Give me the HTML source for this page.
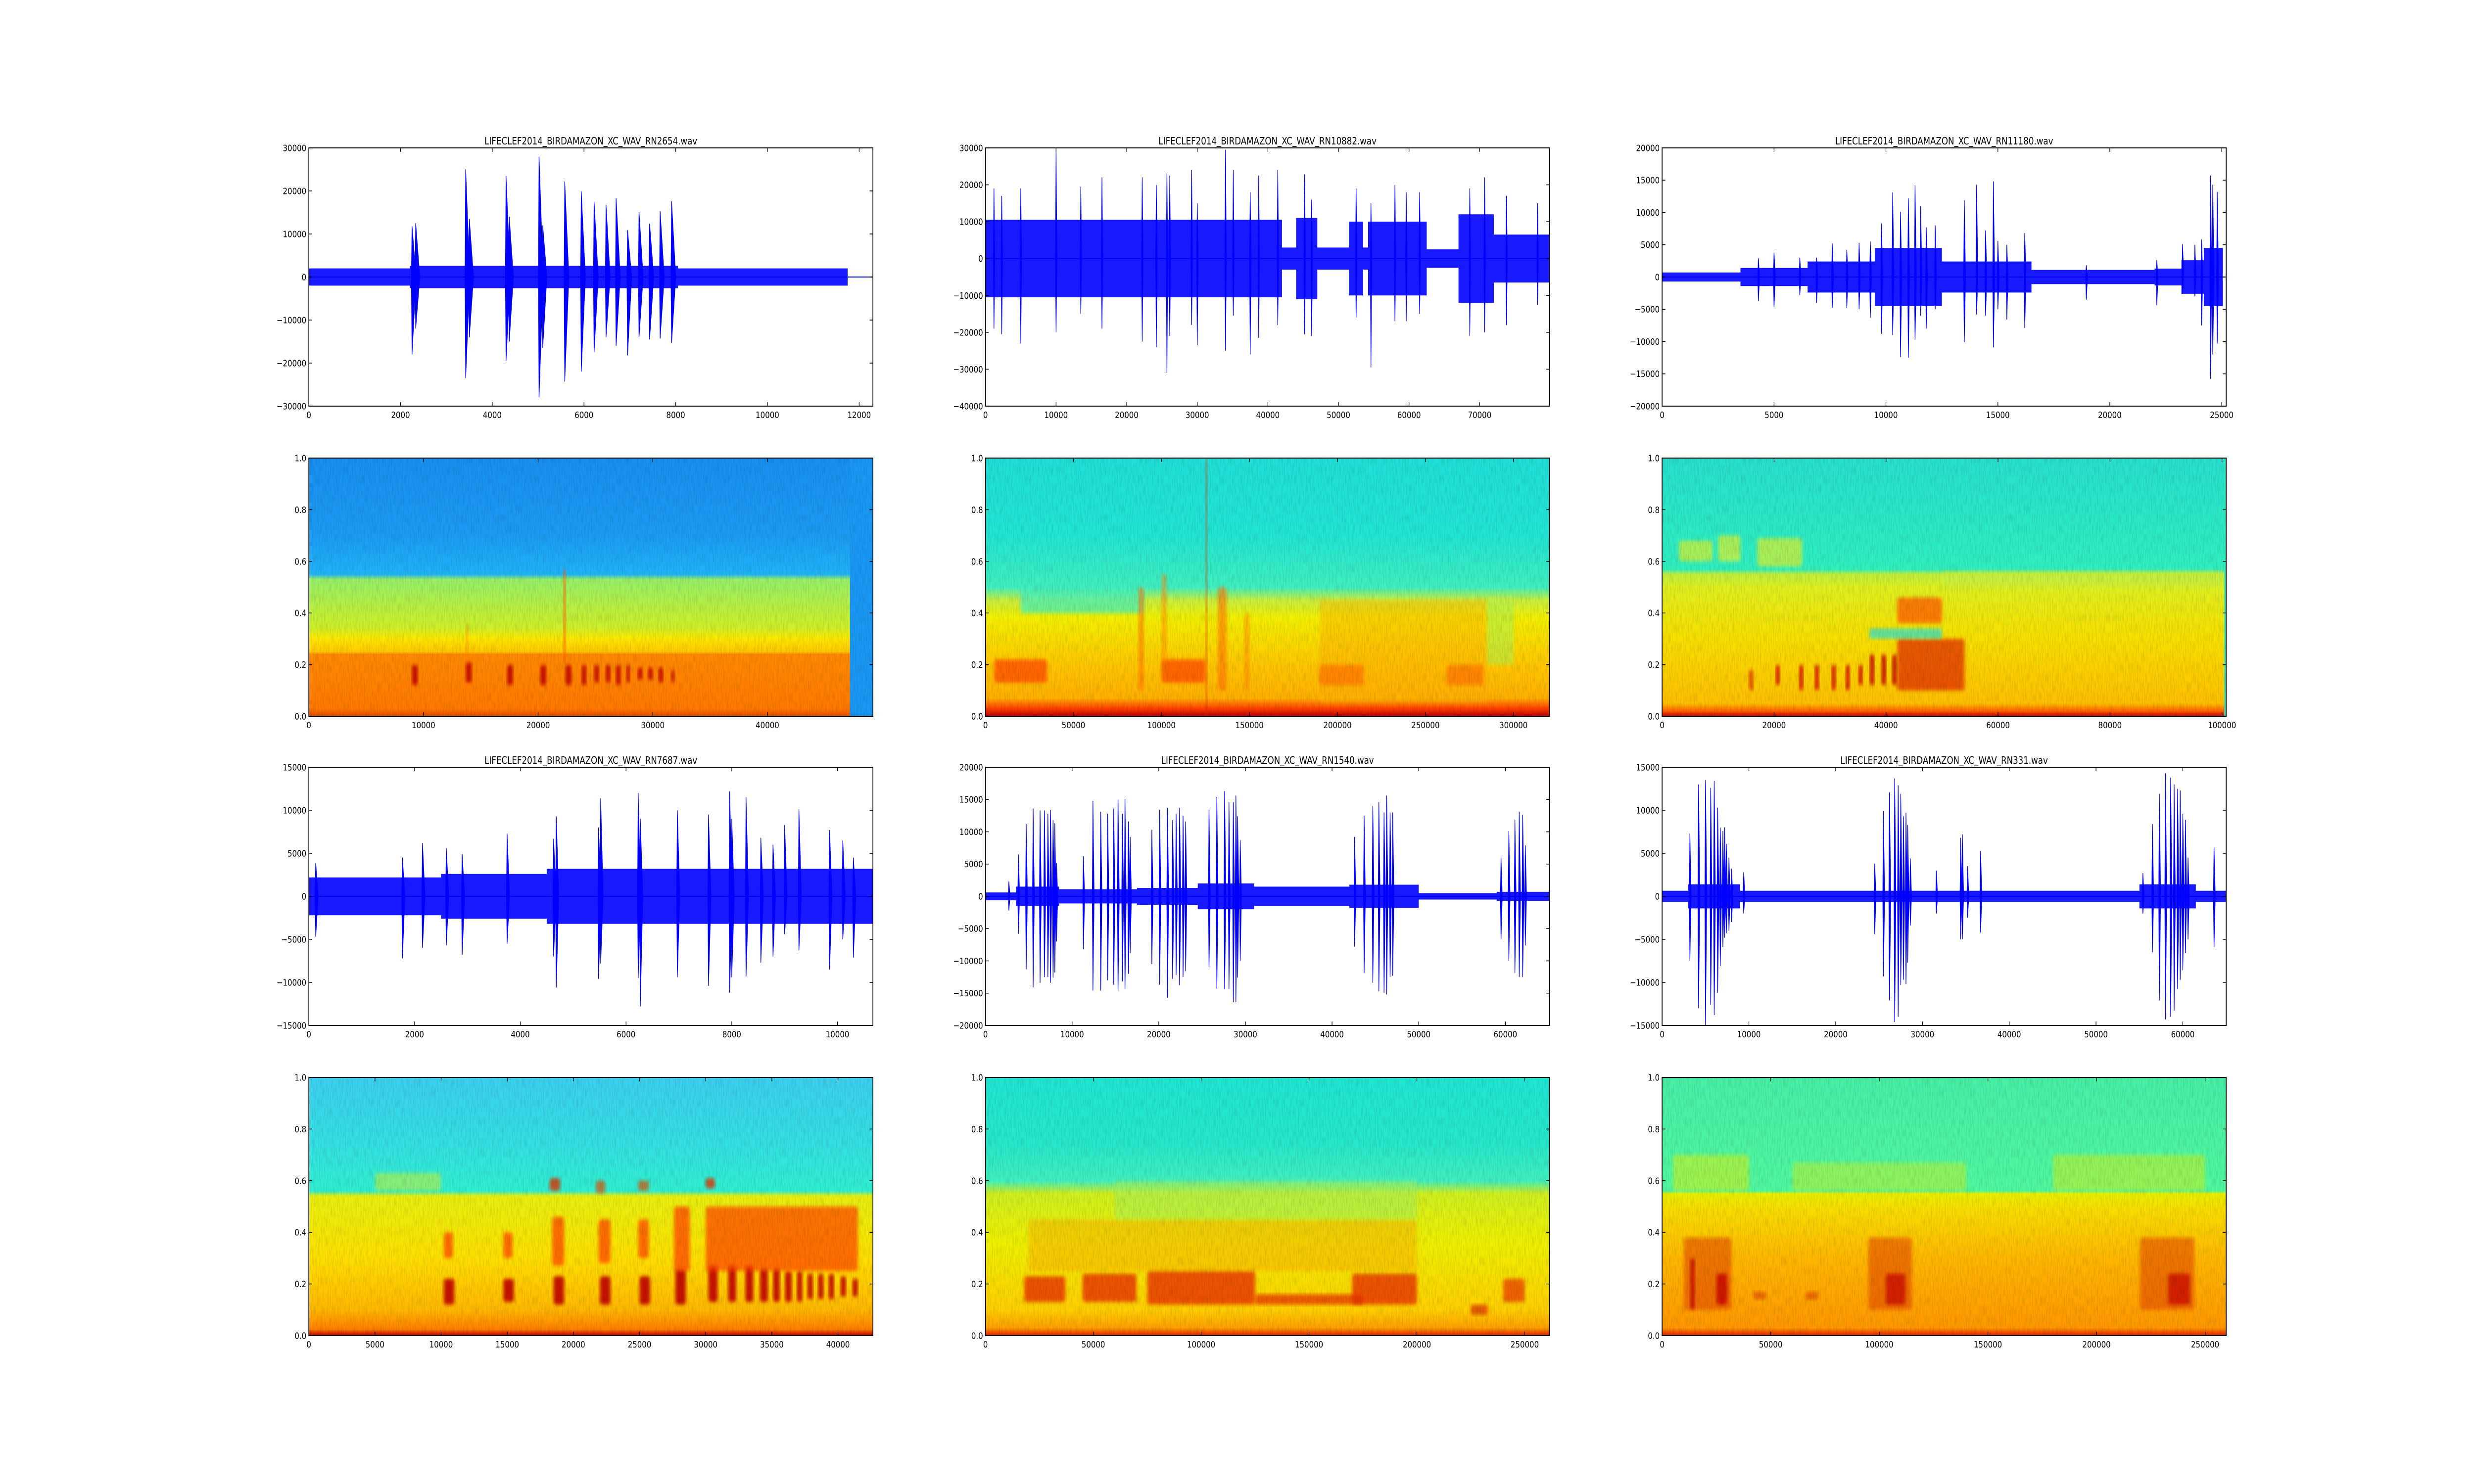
<!DOCTYPE html>
<html><head><meta charset="utf-8">
<style>
html,body{margin:0;padding:0;background:#fff;width:100%;height:100%;overflow:hidden;}
svg{display:block;width:100vw;height:100vh;}
text{font-family:"DejaVu Sans","Liberation Sans",sans-serif;}
</style></head>
<body>
<svg id="fig" xmlns="http://www.w3.org/2000/svg" viewBox="0 0 6000 3000" preserveAspectRatio="none">
<defs>
<filter id="soft" x="-20%" y="-20%" width="140%" height="140%"><feGaussianBlur stdDeviation="4"/></filter>
<filter id="grain" x="0" y="0" width="100%" height="100%">
<feTurbulence type="fractalNoise" baseFrequency="0.35 0.05" numOctaves="2" seed="3"/>
<feColorMatrix type="matrix" values="0 0 0 0 0  0 0 0 0 0  0 0 0 0 0  0 0 0 0.9 -0.35"/>
</filter>
</defs>
<rect width="6000" height="3000" fill="#fff"/>
</svg>
<script>
// ---------- layout (not data) ----------
const COLX = [749, 2390, 4031];
const ROWY = [299, 926, 1551, 2178];
const AW = 1368, AH = 522;

// ---------- waveform data ----------
const wave1Title = "LIFECLEF2014_BIRDAMAZON_XC_WAV_RN2654.wav";
const wave1XMax = 12300;
const wave1YTicks = [-30000, -20000, -10000, 0, 10000, 20000, 30000];
const wave1XTicks = [0, 2000, 4000, 6000, 8000, 10000, 12000];
const wave1Env = [[0, 2200, 2000], [2200, 8050, 2600], [8050, 11750, 2000]];
const wave1Spikes = [[2250, 11800, -18000], [2330, 12500, -12000], [3420, 25000, -23500], [3500, 13500, -14000], [4300, 23500, -19500], [4370, 14000, -15000], [5020, 28000, -28000], [5100, 12000, -16500], [5580, 22200, -24300], [5940, 19900, -22000], [6220, 17500, -17500], [6480, 16800, -14000], [6700, 18300, -16000], [6950, 10900, -18200], [7200, 15100, -14000], [7430, 12400, -14500], [7660, 15300, -14300], [7910, 17600, -15300]];

const wave2Title = "LIFECLEF2014_BIRDAMAZON_XC_WAV_RN10882.wav";
const wave2XMax = 79900;
const wave2YTicks = [-40000, -30000, -20000, -10000, 0, 10000, 20000, 30000];
const wave2XTicks = [0, 10000, 20000, 30000, 40000, 50000, 60000, 70000];
const wave2Env = [[0, 42000, 10500], [42000, 44000, 3000], [44000, 47000, 11000], [47000, 51500, 3000], [51500, 53500, 10000], [53500, 54200, 3000], [54200, 62500, 10000], [62500, 67000, 2500], [67000, 72000, 12000], [72000, 79900, 6500]];
const wave2Spikes = [[1200, 19000, -19000], [2300, 17000, -20500], [5000, 19000, -23000], [10000, 29500, -20000], [13500, 19500, -15000], [16500, 22000, -19000], [22200, 22000, -22500], [24200, 20000, -24000], [25700, 23000, -31000], [26100, 22500, -21000], [29200, 24000, -18000], [30000, 15000, -23500], [34000, 29500, -25000], [35100, 24000, -15500], [37500, 18000, -26000], [38700, 22500, -21500], [41400, 24000, -18000], [45200, 22800, -20500], [46200, 16000, -21000], [52500, 19000, -16000], [54600, 15000, -29500], [58000, 20000, -17000], [59600, 18000, -17000], [61500, 18000, -15000], [68600, 19000, -21000], [70700, 22000, -20000], [73800, 17000, -18000], [78200, 15000, -12500]];

const wave3Title = "LIFECLEF2014_BIRDAMAZON_XC_WAV_RN11180.wav";
const wave3XMax = 25200;
const wave3YTicks = [-20000, -15000, -10000, -5000, 0, 5000, 10000, 15000, 20000];
const wave3XTicks = [0, 5000, 10000, 15000, 20000, 25000];
const wave3Env = [[0, 3500, 700], [3500, 6500, 1400], [6500, 9500, 2400], [9500, 12500, 4500], [12500, 16500, 2400], [16500, 22000, 1100], [22000, 23200, 1300], [23200, 24200, 2600], [24200, 25050, 4500]];
const wave3Spikes = [[4300, 2900, -3700], [5000, 3800, -4700], [6150, 3000, -2800], [6900, 3000, -4000], [7600, 5200, -4800], [8250, 4200, -4800], [8800, 5300, -5000], [9300, 5500, -6300], [9800, 8300, -8800], [10300, 13100, -9000], [10650, 10100, -12400], [11000, 12200, -12500], [11300, 14200, -9700], [11550, 11000, -6000], [11800, 7700, -8000], [12200, 8000, -5000], [13500, 11900, -10100], [14050, 14300, -5800], [14450, 7200, -6000], [14800, 14800, -10900], [15000, 5600, -5000], [15400, 5000, -6600], [16200, 6800, -7900], [18950, 1800, -3500], [22100, 2600, -4400], [23250, 5100, -2600], [23800, 5000, -3000], [24100, 5800, -7500], [24500, 15700, -15800], [24600, 14300, -12000], [24800, 13200, -10300]];

const wave4Title = "LIFECLEF2014_BIRDAMAZON_XC_WAV_RN7687.wav";
const wave4XMax = 10670;
const wave4YTicks = [-15000, -10000, -5000, 0, 5000, 10000, 15000];
const wave4XTicks = [0, 2000, 4000, 6000, 8000, 10000];
const wave4Env = [[0, 2500, 2200], [2500, 4500, 2600], [4500, 10670, 3200]];
const wave4Spikes = [[130, 3900, -4700], [1770, 4500, -7200], [2150, 6200, -6000], [2600, 5600, -5700], [2900, 4900, -6800], [3750, 7300, -5500], [4630, 6700, -7000], [4680, 9300, -10600], [5480, 8000, -9600], [5520, 11400, -7800], [6230, 12000, -9500], [6270, 9000, -12800], [6970, 10000, -9400], [7560, 9500, -10400], [7960, 12200, -11200], [8000, 9000, -9400], [8270, 11500, -9300], [8550, 6800, -7700], [8780, 6000, -7000], [9000, 8300, -4400], [9270, 10100, -6300], [9850, 7700, -8500], [10100, 6500, -5000], [10300, 4500, -7100]];

const wave5Title = "LIFECLEF2014_BIRDAMAZON_XC_WAV_RN1540.wav";
const wave5XMax = 65100;
const wave5YTicks = [-20000, -15000, -10000, -5000, 0, 5000, 10000, 15000, 20000];
const wave5XTicks = [0, 10000, 20000, 30000, 40000, 50000, 60000];
const wave5Env = [[0, 3500, 600], [3500, 8500, 1500], [8500, 17500, 1100], [17500, 24500, 1300], [24500, 31000, 2000], [31000, 42000, 1500], [42000, 50000, 1800], [50000, 59000, 500], [59000, 65100, 700]];
const wave5Spikes = [[2700, 2300, -2200], [3800, 6500, -5800], [4700, 11200, -11300], [5500, 13600, -14100], [6300, 13300, -13400], [6800, 13300, -12500], [7200, 12800, -12500], [7500, 13400, -13400], [7800, 11800, -12600], [8000, 11300, -11800], [8200, 5200, -7000], [11300, 6200, -8200], [12400, 14800, -14600], [13300, 13100, -14600], [14100, 12800, -13000], [14800, 13600, -13700], [15300, 15000, -14600], [15800, 12800, -13200], [16100, 15100, -14400], [16500, 11600, -12000], [16700, 9200, -8800], [19200, 10300, -10500], [20100, 13400, -13700], [21000, 13700, -15700], [21600, 11800, -12800], [22000, 12800, -12200], [22400, 13700, -13800], [22800, 12500, -12500], [23100, 11600, -11600], [25800, 13400, -11000], [26700, 15400, -14300], [27600, 16300, -14400], [28100, 14600, -14400], [28600, 14600, -16400], [28900, 15600, -16400], [29100, 12400, -12600], [29400, 8700, -10000], [42600, 9200, -7800], [43700, 12500, -11900], [44700, 14000, -13400], [45400, 14600, -14700], [46000, 13000, -15000], [46300, 15600, -15200], [46700, 13000, -12500], [47000, 13000, -12300], [59500, 6000, -6700], [60400, 10100, -10000], [61100, 11900, -11900], [61600, 13100, -12500], [62000, 12600, -12500], [62300, 7900, -7600]];

const wave6Title = "LIFECLEF2014_BIRDAMAZON_XC_WAV_RN331.wav";
const wave6XMax = 65000;
const wave6YTicks = [-15000, -10000, -5000, 0, 5000, 10000, 15000];
const wave6XTicks = [0, 10000, 20000, 30000, 40000, 50000, 60000];
const wave6Env = [[0, 3000, 650], [3000, 9000, 1400], [9000, 55000, 650], [55000, 61500, 1400], [61500, 65000, 650]];
const wave6Spikes = [[3200, 7300, -7500], [4200, 13000, -13000], [5000, 13500, -15000], [5600, 12600, -12600], [6000, 13400, -13800], [6400, 10300, -11200], [6700, 8000, -8100], [7000, 7600, -5900], [7200, 8000, -4800], [7400, 6100, -4300], [7700, 4500, -4000], [8000, 3200, -3000], [9400, 2800, -2000], [24500, 3800, -4400], [25500, 9900, -9300], [26200, 12100, -12100], [26800, 13700, -14600], [27200, 12900, -14000], [27500, 11900, -10300], [27800, 9300, -9700], [28100, 9700, -10200], [28300, 8300, -7700], [28600, 4400, -3400], [31600, 3000, -2000], [34400, 6800, -5000], [34600, 7200, -5000], [35200, 3500, -2500], [36700, 5300, -4200], [55400, 2700, -2000], [56500, 8400, -6500], [57300, 11900, -12100], [58000, 14300, -14300], [58600, 13800, -14000], [59000, 13000, -13300], [59400, 12500, -10800], [59700, 12300, -9700], [60000, 9600, -8600], [60300, 8900, -6600], [60600, 4500, -5000], [63600, 5700, -5900]];

// ---------- spectrogram data ----------
const specYTicks = [0, 0.2, 0.4, 0.6, 0.8, 1.0];
const spec1XMax = 49200;
const spec1XTicks = [0, 10000, 20000, 30000, 40000];
const spec1Stops = [[0, "#e85000"], [0.03, "#ff7a00"], [0.24, "#ff8a00"], [0.25, "#ffc800"], [0.3, "#ffe800"], [0.34, "#d0f028"], [0.53, "#98f068"], [0.55, "#20b4f8"], [0.7, "#1c9cf4"], [1, "#1890f0"]];
const spec1Regions = [[47200, 49200, 0, 1, "#1a98f4", 1], [9000, 9500, 0.12, 0.2, "#c00000", 0.9], [13700, 14200, 0.13, 0.21, "#c00000", 0.9], [17300, 17800, 0.12, 0.2, "#c00000", 0.9], [20200, 20700, 0.12, 0.2, "#c00000", 0.9], [22400, 22900, 0.12, 0.2, "#c00000", 0.9], [23800, 24200, 0.12, 0.2, "#c00000", 0.9], [24900, 25300, 0.13, 0.2, "#c00000", 0.9], [25900, 26300, 0.13, 0.2, "#c00000", 0.9], [26800, 27200, 0.12, 0.2, "#c00000", 0.9], [27700, 28000, 0.13, 0.2, "#c00000", 0.9], [28700, 29100, 0.14, 0.19, "#c00000", 0.9], [29600, 30000, 0.14, 0.19, "#c00000", 0.9], [30500, 30900, 0.13, 0.19, "#c00000", 0.9], [31600, 31900, 0.13, 0.18, "#c00000", 0.8], [22200, 22400, 0.2, 0.57, "#ff6000", 0.9], [13700, 13900, 0.2, 0.36, "#ff8000", 0.6]];

const spec2XMax = 320500;
const spec2XTicks = [0, 50000, 100000, 150000, 200000, 250000, 300000];
const spec2Stops = [[0, "#c00000"], [0.03, "#ff4000"], [0.07, "#ffb000"], [0.2, "#ffc800"], [0.38, "#f4f000"], [0.45, "#c8f040"], [0.5, "#40f0c0"], [0.7, "#22e6d4"], [1, "#20e0d8"]];
const spec2Regions = [[20000, 90000, 0.4, 0.5, "#40f0c0", 0.7], [5000, 35000, 0.13, 0.22, "#ff5000", 0.8], [100000, 125000, 0.13, 0.22, "#ff5000", 0.8], [190000, 215000, 0.12, 0.2, "#ff5000", 0.8], [262000, 283000, 0.12, 0.2, "#ff5000", 0.8], [190000, 285000, 0.05, 0.45, "#ffb000", 0.45], [87000, 90000, 0.1, 0.5, "#ff7000", 0.6], [100000, 103000, 0.2, 0.55, "#ff8000", 0.5], [125000, 126000, 0, 1, "#e03000", 0.7], [132000, 137000, 0.1, 0.5, "#ff7000", 0.6], [147000, 150000, 0.1, 0.4, "#ff8000", 0.5], [285000, 300000, 0.2, 0.45, "#b0f050", 0.6]];

const spec3XMax = 100750;
const spec3XTicks = [0, 20000, 40000, 60000, 80000, 100000];
const spec3Stops = [[0, "#d00000"], [0.02, "#ff6000"], [0.05, "#ffc000"], [0.3, "#f8e000"], [0.5, "#e0f020"], [0.55, "#c0f040"], [0.57, "#30f0c0"], [0.8, "#2ae8c8"], [1, "#28e0d0"]];
const spec3Regions = [[100400, 100750, 0, 1, "#30f0c0", 1], [42000, 54000, 0.1, 0.3, "#e02000", 0.7], [37000, 50000, 0.3, 0.34, "#40e0c0", 0.8], [42000, 50000, 0.36, 0.46, "#ff5000", 0.7], [15500, 16300, 0.1, 0.18, "#e03000", 0.8], [20300, 21000, 0.12, 0.2, "#d00000", 0.9], [24500, 25200, 0.1, 0.2, "#d00000", 0.9], [27300, 28000, 0.1, 0.2, "#d00000", 0.9], [30300, 31000, 0.1, 0.2, "#d00000", 0.9], [32800, 33500, 0.1, 0.2, "#d00000", 0.9], [35100, 35800, 0.12, 0.2, "#d00000", 0.9], [37100, 37900, 0.12, 0.24, "#c00000", 0.9], [39200, 40000, 0.12, 0.24, "#c00000", 0.9], [41100, 41900, 0.12, 0.24, "#c00000", 0.9], [3000, 9000, 0.6, 0.68, "#c8f040", 0.8], [10000, 14000, 0.6, 0.7, "#c8f040", 0.8], [17000, 25000, 0.58, 0.69, "#c8f040", 0.8], [50000, 100000, 0.5, 0.56, "#c8f040", 0.6]];

const spec4XMax = 42640;
const spec4XTicks = [0, 5000, 10000, 15000, 20000, 25000, 30000, 35000, 40000];
const spec4Stops = [[0, "#c00000"], [0.025, "#ff8000"], [0.1, "#ffb800"], [0.3, "#ffe000"], [0.54, "#e8f010"], [0.56, "#30f0d0"], [0.75, "#34e0e4"], [1, "#3cd0f0"]];
const spec4Regions = [[10200, 11000, 0.12, 0.22, "#c00000", 0.9], [14700, 15500, 0.13, 0.22, "#c00000", 0.9], [18500, 19300, 0.12, 0.23, "#c00000", 0.9], [22000, 22800, 0.12, 0.23, "#c00000", 0.9], [25000, 25800, 0.12, 0.23, "#c00000", 0.9], [27700, 28500, 0.12, 0.26, "#c00000", 0.9], [30200, 30900, 0.13, 0.27, "#c00000", 0.9], [31700, 32300, 0.13, 0.27, "#c00000", 0.9], [33000, 33600, 0.13, 0.27, "#c00000", 0.9], [34100, 34700, 0.13, 0.26, "#c00000", 0.9], [35100, 35600, 0.13, 0.26, "#c00000", 0.9], [36000, 36500, 0.13, 0.25, "#c00000", 0.9], [36900, 37300, 0.13, 0.25, "#c00000", 0.9], [37700, 38100, 0.14, 0.24, "#c00000", 0.9], [38500, 38900, 0.14, 0.24, "#c00000", 0.9], [39300, 39700, 0.14, 0.24, "#c00000", 0.9], [40200, 40600, 0.15, 0.23, "#c00000", 0.9], [41100, 41500, 0.15, 0.22, "#c00000", 0.9], [10200, 10900, 0.3, 0.4, "#ff5000", 0.8], [14700, 15400, 0.3, 0.4, "#ff5000", 0.8], [18400, 19300, 0.27, 0.46, "#ff5000", 0.8], [21900, 22800, 0.28, 0.45, "#ff5000", 0.8], [24900, 25700, 0.3, 0.45, "#ff5000", 0.8], [27600, 28800, 0.25, 0.5, "#ff5000", 0.8], [30000, 41500, 0.25, 0.5, "#ff4000", 0.7], [18200, 19000, 0.56, 0.61, "#e03000", 0.8], [21700, 22400, 0.55, 0.6, "#e05000", 0.7], [24900, 25700, 0.56, 0.6, "#e05000", 0.7], [30000, 30700, 0.57, 0.61, "#e03000", 0.8], [5000, 10000, 0.56, 0.63, "#c0f040", 0.6]];

const spec5XMax = 261500;
const spec5XTicks = [0, 50000, 100000, 150000, 200000, 250000];
const spec5Stops = [[0, "#e02000"], [0.03, "#ffa000"], [0.1, "#ffd000"], [0.35, "#f0f000"], [0.55, "#d0f020"], [0.6, "#40f0c0"], [0.75, "#26e8cc"], [1, "#20e6d4"]];
const spec5Regions = [[18000, 37000, 0.13, 0.23, "#e83000", 0.8], [45000, 70000, 0.13, 0.24, "#e83000", 0.8], [75000, 125000, 0.12, 0.25, "#e83000", 0.8], [125000, 175000, 0.12, 0.16, "#e83000", 0.75], [170000, 200000, 0.12, 0.24, "#e83000", 0.8], [240000, 250000, 0.13, 0.22, "#e83000", 0.7], [20000, 200000, 0.25, 0.45, "#ff9000", 0.35], [225000, 233000, 0.08, 0.12, "#e04000", 0.8], [60000, 200000, 0.45, 0.6, "#a0f060", 0.5]];

const spec6XMax = 259700;
const spec6XTicks = [0, 50000, 100000, 150000, 200000, 250000];
const spec6Stops = [[0, "#e02000"], [0.03, "#ff9800"], [0.3, "#ffb800"], [0.5, "#f8e000"], [0.55, "#e8f000"], [0.56, "#50f8a0"], [0.8, "#4cf4a4"], [1, "#48f0a8"]];
const spec6Regions = [[10000, 32000, 0.1, 0.38, "#e04000", 0.55], [95000, 115000, 0.1, 0.38, "#e04000", 0.55], [220000, 245000, 0.1, 0.38, "#e04000", 0.55], [13000, 15000, 0.1, 0.3, "#c00000", 0.8], [25000, 30000, 0.12, 0.24, "#c80000", 0.8], [103000, 112000, 0.12, 0.24, "#c80000", 0.7], [233000, 243000, 0.12, 0.24, "#c80000", 0.7], [42000, 48000, 0.14, 0.17, "#e05000", 0.7], [66000, 72000, 0.14, 0.17, "#e05000", 0.7], [5000, 40000, 0.56, 0.7, "#e8f000", 0.5], [60000, 140000, 0.56, 0.67, "#e8f000", 0.4], [180000, 250000, 0.56, 0.7, "#e8f000", 0.45]];

// ---------- rendering ----------
const NS = "http://www.w3.org/2000/svg";
const svg = document.getElementById("fig");
function mk(tag, attrs, parent) {
  const e = document.createElementNS(NS, tag);
  for (const k in attrs) e.setAttribute(k, attrs[k]);
  (parent || svg).appendChild(e);
  return e;
}
function fmt(v, isSpec) {
  if (isSpec) return v.toFixed(1);
  return v < 0 ? "\u2212" + Math.abs(v) : String(v);
}
function axesFrame(g, x0, y0, xMax, yMin, yMax, xTicks, yTicks, isSpec) {
  const sx = v => x0 + v / xMax * AW;
  const sy = v => y0 + AH - (v - yMin) / (yMax - yMin) * AH;
  const frame = mk("rect", {x: x0, y: y0, width: AW, height: AH, fill: "none", stroke: "#000", "stroke-width": 2}, g);
  
  
  xTicks.forEach(t => {
    const px = sx(t);
    const tk = mk("path", {d: `M${px},${y0 + AH}v-8M${px},${y0}v8`, stroke: "#000", "stroke-width": 1.5}, g);
    
    
    const lb = mk("text", {x: px, y: y0 + AH + 24, "font-size": 18, "text-anchor": "middle", fill: "#000"}, g);
    lb.textContent = fmt(t, false);
    
    
  });
  yTicks.forEach(t => {
    const py = sy(t);
    const tk = mk("path", {d: `M${x0},${py}h8M${x0 + AW},${py}h-8`, stroke: "#000", "stroke-width": 1.5}, g);
    
    
    const lb = mk("text", {x: x0 - 6, y: py + 6.5, "font-size": 18, "text-anchor": "end", fill: "#000"}, g);
    lb.textContent = fmt(t, isSpec);
    
    
  });
}
function drawWave(col, row, title, xMax, yTicks, xTicks, env, spikes, spikeW) {
  const x0 = COLX[col], y0 = ROWY[row];
  const yMin = yTicks[0], yMax = yTicks[yTicks.length - 1];
  const sx = v => x0 + v / xMax * AW;
  const sy = v => y0 + AH - (v - yMin) / (yMax - yMin) * AH;
  const g = mk("g", {});
  
  
  const tt = mk("text", {x: x0 + AW / 2, y: y0 - 7, "font-size": 20, "text-anchor": "middle", fill: "#000"}, g);
  tt.textContent = title;
  
  
  const base = mk("line", {x1: x0, x2: x0 + AW, y1: sy(0), y2: sy(0), stroke: "#0000ff", "stroke-width": 2}, g);
  
  
  let top = "", bot = [];
  env.forEach(s => {
    top += `${top ? "L" : "M"}${sx(s[0])},${sy(s[2])}L${sx(s[1])},${sy(s[2])}`;
    bot.unshift(`L${sx(s[1])},${sy(-s[2])}L${sx(s[0])},${sy(-s[2])}`);
  });
  const ep = mk("path", {d: top + bot.join("") + "Z", fill: "#0000ff", opacity: 0.9}, g);
  
  
  spikes.forEach(s => {
    const px = sx(s[0]), z = sy(0);
    const sp = mk("path", {d: `M${px - 1.5},${z}L${px},${sy(s[1])}L${px + spikeW},${z}L${px},${sy(s[2])}Z`, fill: "#0000ff", stroke: "#0000ff", "stroke-width": 1.5}, g);
    
    
  });
  axesFrame(g, x0, y0, xMax, yMin, yMax, xTicks, yTicks, false);
}
let gradId = 0;
function drawSpec(col, row, xMax, xTicks, stops, regions) {
  const x0 = COLX[col], y0 = ROWY[row];
  const sx = v => x0 + v / xMax * AW;
  const sy = v => y0 + AH - v * AH;
  const g = mk("g", {});
  
  
  const id = "sg" + (gradId++);
  const lg = mk("linearGradient", {id: id, x1: 0, y1: 1, x2: 0, y2: 0}, svg.querySelector("defs"));
  stops.forEach(s => mk("stop", {offset: s[0], "stop-color": s[1]}, lg));
  const bg = mk("rect", {x: x0, y: y0, width: AW, height: AH, fill: `url(#${id})`}, g);
  
  
  const clipId = "cp" + id;
  const cp = mk("clipPath", {id: clipId}, svg.querySelector("defs"));
  mk("rect", {x: x0, y: y0, width: AW, height: AH}, cp);
  const rg = mk("g", {"clip-path": `url(#${clipId})`}, g);
  regions.forEach(r => {
    const full = r[5] >= 1;
    const rc = mk("rect", {x: sx(r[0]), y: sy(r[3]), width: Math.max(2, sx(r[1]) - sx(r[0])), height: sy(r[2]) - sy(r[3]), fill: r[4], opacity: r[5], rx: full ? 0 : 6}, rg);
    if (!full) rc.setAttribute("filter", "url(#soft)");
    
    
  });
  const gr = mk("rect", {x: x0, y: y0, width: AW, height: AH, filter: "url(#grain)", opacity: 0.25}, rg);
  
  
  axesFrame(g, x0, y0, xMax, 0, 1, xTicks, specYTicks, true);
}
drawWave(0, 0, wave1Title, wave1XMax, wave1YTicks, wave1XTicks, wave1Env, wave1Spikes, 10);
drawWave(1, 0, wave2Title, wave2XMax, wave2YTicks, wave2XTicks, wave2Env, wave2Spikes, 2);
drawWave(2, 0, wave3Title, wave3XMax, wave3YTicks, wave3XTicks, wave3Env, wave3Spikes, 3);
drawWave(0, 2, wave4Title, wave4XMax, wave4YTicks, wave4XTicks, wave4Env, wave4Spikes, 6);
drawWave(1, 2, wave5Title, wave5XMax, wave5YTicks, wave5XTicks, wave5Env, wave5Spikes, 3);
drawWave(2, 2, wave6Title, wave6XMax, wave6YTicks, wave6XTicks, wave6Env, wave6Spikes, 3);
drawSpec(0, 1, spec1XMax, spec1XTicks, spec1Stops, spec1Regions);
drawSpec(1, 1, spec2XMax, spec2XTicks, spec2Stops, spec2Regions);
drawSpec(2, 1, spec3XMax, spec3XTicks, spec3Stops, spec3Regions);
drawSpec(0, 3, spec4XMax, spec4XTicks, spec4Stops, spec4Regions);
drawSpec(1, 3, spec5XMax, spec5XTicks, spec5Stops, spec5Regions);
drawSpec(2, 3, spec6XMax, spec6XTicks, spec6Stops, spec6Regions);
</script>
</body></html>
